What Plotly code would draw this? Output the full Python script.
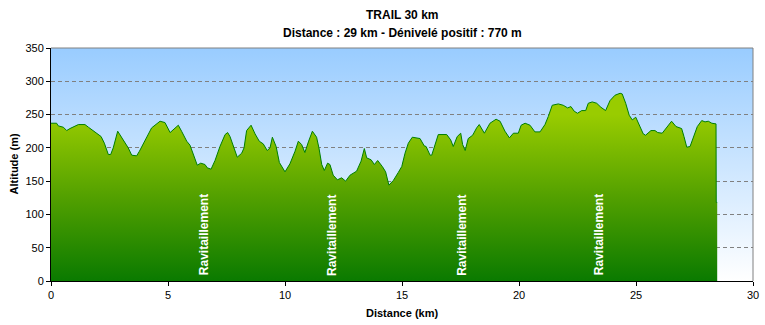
import base64
import plotly.graph_objects as go

# ---- data ----
distance_km = [
    0.00, 0.24, 0.31, 0.53, 0.67, 0.81, 1.17, 1.45, 1.60, 1.81, 2.02, 2.14, 2.28, 2.45, 2.55,
    2.66, 2.85, 2.99, 3.16, 3.30, 3.45, 3.66, 3.78, 4.02, 4.30, 4.66, 4.87, 5.09, 5.23, 5.44,
    5.58, 5.80, 5.94, 6.08, 6.25, 6.40, 6.58, 6.68, 6.84, 7.01, 7.22, 7.44, 7.55, 7.65, 7.79,
    7.96, 8.15, 8.25, 8.36, 8.55, 8.72, 8.90, 9.07, 9.24, 9.36, 9.46, 9.62, 9.76, 10.00, 10.21,
    10.43, 10.57, 10.71, 10.85, 11.00, 11.17, 11.35, 11.45, 11.57, 11.68, 11.82, 11.92, 12.06,
    12.24, 12.42, 12.59, 12.78, 13.06, 13.25, 13.39, 13.49, 13.68, 13.82, 13.96, 14.16, 14.30,
    14.44, 14.63, 14.84, 14.99, 15.13, 15.27, 15.44, 15.77, 15.95, 16.03, 16.20, 16.27, 16.55,
    16.91, 17.08, 17.19, 17.36, 17.51, 17.59, 17.70, 17.83, 18.02, 18.19, 18.30, 18.52, 18.76,
    19.02, 19.19, 19.40, 19.59, 19.76, 19.97, 20.09, 20.26, 20.47, 20.68, 20.90, 21.11, 21.25,
    21.42, 21.68, 21.89, 22.08, 22.22, 22.36, 22.50, 22.68, 22.85, 22.96, 23.13, 23.32, 23.50,
    23.70, 23.89, 24.10, 24.32, 24.41, 24.56, 24.71, 24.84, 24.99, 25.13, 25.31, 25.41, 25.64,
    25.81, 25.93, 26.12, 26.31, 26.52, 26.71, 26.95, 27.05, 27.17, 27.31, 27.45, 27.62, 27.81,
    27.95, 28.09, 28.24, 28.42, 28.43, 28.47,
]
altitude_m = [
    237, 237, 233, 231, 226, 229, 235, 235, 231, 226, 220, 217, 207, 190, 190,
    200, 225, 217, 209, 200, 189, 188, 195, 212, 230, 240, 238, 223, 228, 234,
    225, 210, 204, 190, 174, 177, 175, 170, 168, 181, 202, 220, 223, 217, 202,
    186, 192, 200, 226, 234, 221, 210, 206, 196, 200, 216, 202, 178, 164, 176,
    195, 210, 205, 193, 209, 225, 216, 200, 175, 166, 177, 175, 159,
    152, 155, 150, 159, 165, 180, 199, 185, 182, 175, 181, 172, 164,
    144, 151, 163, 172, 192, 207, 216, 214, 203, 202, 189, 189, 220,
    220, 212, 202, 217, 222, 205, 196, 214, 219, 230, 235, 222, 237,
    243, 240, 225, 215, 222, 222, 234, 237, 234, 224, 224, 235, 247,
    264, 266, 264, 260, 262, 255, 252, 256, 256, 267, 269, 267, 261,
    256, 271, 279, 282, 281, 267, 249, 242, 246, 236, 221, 219, 226,
    226, 223, 222, 230, 240, 232, 229, 217, 201, 202, 217, 232, 241,
    239, 240, 237, 236, 118, 118,
]
supply_km = [6.54, 12.0, 17.55, 23.42]
supply_label = "Ravitaillement"
x_ticks = [0, 5, 10, 15, 20, 25, 30]
y_ticks = [0, 50, 100, 150, 200, 250, 300, 350]
title_1 = "TRAIL 30 km"
title_2 = "Distance : 29 km - Dénivelé positif : 770 m"
x_title = "Distance (km)"
y_title = "Altitude (m)"

FONT = "Liberation Sans, Arial, sans-serif"

# background gradient (sky) as svg image
svg = ('<svg xmlns="http://www.w3.org/2000/svg" width="10" height="100" viewBox="0 0 10 100" '
       'preserveAspectRatio="none"><defs><linearGradient id="g" x1="0" y1="0" x2="0" y2="1">'
       '<stop offset="0" stop-color="#99CCFF"/><stop offset="1" stop-color="#FFFFFF"/>'
       '</linearGradient></defs><rect width="10" height="100" fill="url(#g)"/></svg>')
svg_uri = "data:image/svg+xml;base64," + base64.b64encode(svg.encode()).decode()

fig = go.Figure()
fig.add_trace(go.Scatter(
    x=distance_km, y=altitude_m, mode="lines",
    line=dict(color="#007F00", width=1),
    fill="tozeroy",
    fillgradient=dict(type="vertical", start=0, stop=250,
                      colorscale=[[0, "#0A7A00"], [0.5, "#52A000"], [1, "#99CC00"]]),
    hoverinfo="skip", showlegend=False,
))

for k in supply_km:
    fig.add_annotation(x=k, y=5, xref="x", yref="y", text="<b>" + supply_label + "</b>",
                       textangle=-90, showarrow=False, yanchor="bottom", xanchor="center",
                       font=dict(family=FONT, size=12, color="white"))

fig.add_annotation(x=0.5, y=1, xref="paper", yref="paper", yshift=33,
                   text="<b>" + title_1 + "</b>", showarrow=False,
                   xanchor="center", yanchor="middle",
                   font=dict(family=FONT, size=12, color="black"))
fig.add_annotation(x=0.5, y=1, xref="paper", yref="paper", yshift=15,
                   text="<b>" + title_2 + "</b>", showarrow=False,
                   xanchor="center", yanchor="middle",
                   font=dict(family=FONT, size=12, color="black"))
fig.add_annotation(x=0.5, y=0, xref="paper", yref="paper", yshift=-32,
                   text="<b>" + x_title + "</b>", showarrow=False,
                   xanchor="center", yanchor="middle",
                   font=dict(family=FONT, size=11, color="black"))
fig.add_annotation(x=0, y=0.5, xref="paper", yref="paper", xshift=-38,
                   text="<b>" + y_title + "</b>", showarrow=False, textangle=-90,
                   xanchor="center", yanchor="middle",
                   font=dict(family=FONT, size=11, color="black"))

fig.update_layout(
    width=765, height=325,
    margin=dict(l=51, r=12, t=48, b=44, autoexpand=False),
    paper_bgcolor="white", plot_bgcolor="rgba(0,0,0,0)",
    font=dict(family=FONT, size=11, color="black"),
    images=[dict(source=svg_uri, xref="x", yref="y", x=0, y=350, sizex=30, sizey=350,
                 sizing="stretch", layer="below", xanchor="left", yanchor="top")],
    shapes=[
        dict(type="line", xref="paper", yref="paper", x0=0, x1=1, y0=1, y1=1,
             line=dict(color="#808080", width=1)),
        dict(type="line", xref="paper", yref="paper", x0=1, x1=1, y0=0, y1=1,
             line=dict(color="#808080", width=1)),
    ],
)

fig.update_xaxes(range=[0, 30], tickvals=x_ticks, ticks="outside", ticklen=4, tickcolor="black",
                 showline=True, linecolor="black", linewidth=1, showgrid=False, zeroline=False,
                 tickfont=dict(size=11), automargin=False)
fig.update_yaxes(range=[0, 350], tickvals=y_ticks, ticks="outside", ticklen=4, tickcolor="black",
                 showline=True, linecolor="black", linewidth=1, showgrid=True, gridcolor="#808080",
                 griddash="4px,3px", gridwidth=1, zeroline=False, tickfont=dict(size=11),
                 automargin=False)

fig.write_html("out.html")
